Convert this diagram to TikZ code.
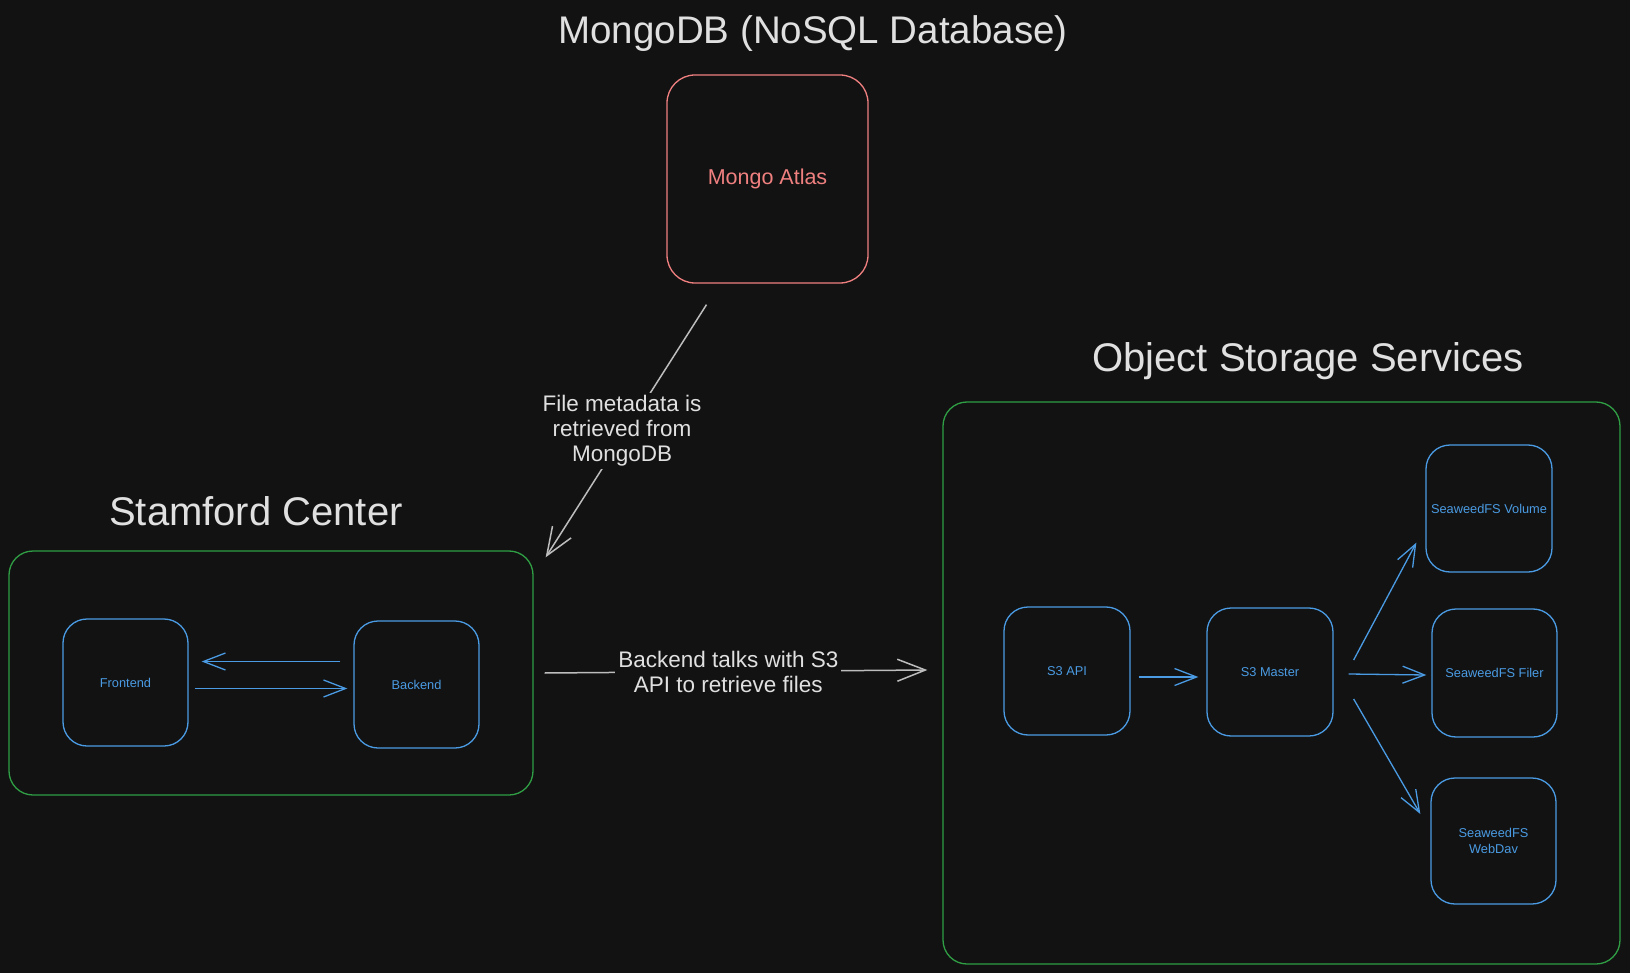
\documentclass[tikz,border=0pt]{standalone}
\usepackage{fontspec}
\setmainfont{Liberation Sans}
\usetikzlibrary{arrows.meta}

\definecolor{bgc}{HTML}{121212}
\definecolor{txtc}{HTML}{E0E0E0}
\definecolor{linec}{HTML}{BDBDBD}
\definecolor{bluec}{HTML}{4A9BE3}
\definecolor{greenc}{HTML}{2F9E44}
\definecolor{redc}{HTML}{F08080}

\begin{document}
\begin{tikzpicture}[x=1pt,y=-1pt,
    hd/.style={text=txtc,font=\fontsize{40}{46}\selectfont,anchor=base},
    grp/.style={draw=greenc,line width=1.3pt,rounded corners=24pt,inner sep=0pt},
    svc/.style={draw=bluec,line width=1.3pt,rounded corners=24pt,text=bluec,
      font=\fontsize{12.8}{15.5}\selectfont,align=center,inner sep=0pt,
      minimum width=125pt,minimum height=127pt},
    db/.style={draw=redc,line width=1.3pt,rounded corners=28pt,text=redc,
      font=\fontsize{21.5}{25}\selectfont,inner sep=0pt,
      minimum width=201pt,minimum height=208pt},
    lbl/.style={fill=bgc,text=txtc,font=\fontsize{22.5}{25}\selectfont,
      align=center,inner sep=3pt},
    arr/.style={draw=linec,line width=1.5pt,-{Straight Barb[length=28pt,width=22pt]}},
    barr/.style={draw=bluec,line width=1.3pt,-{Straight Barb[length=22pt,width=17pt]}}]

    \fill[bgc] (0,0) rectangle (1630,973);

    % the headings

    \node[hd,font=\fontsize{38.5}{44}\selectfont] (mongohd) at (813,44) {MongoDB (NoSQL Database)};
    \node[hd] (stamhd) at (256,525) {Stamford Center};
    \node[hd] (objhd) at (1308,372) {Object Storage Services};

    % the groups and boxes

    \node[db] (mongo) at (767.5,179) {Mongo Atlas};

    \node[grp,minimum width=524pt,minimum height=244pt] (stam) at (271,673) {};
    \node[svc] (front) at (125.5,682.5) {Frontend};
    \node[svc] (back) at (416.5,684.5) {Backend};

    \node[grp,minimum width=677pt,minimum height=562pt] (obj) at (1281.5,683) {};
    \node[svc,minimum width=126pt,minimum height=128pt] (s3api) at (1067,671) {S3 API};
    \node[svc,minimum width=126pt,minimum height=128pt] (s3master) at (1270,672) {S3 Master};
    \node[svc,minimum width=126pt] (volume) at (1489,508.5) {SeaweedFS Volume};
    \node[svc,minimum height=128pt] (filer) at (1494.5,673) {SeaweedFS Filer};
    \node[svc,minimum height=126pt] (webdav) at (1493.5,841) {SeaweedFS\\WebDav};

    % the arrows

    \draw[arr] ([xshift=-61pt,yshift=-21pt]mongo.south) to
    node[lbl,midway,xshift=-4pt]{File metadata is\\retrieved from\\MongoDB}
    ([xshift=12pt,yshift=-7pt]stam.north east);
    \draw[arr] ([xshift=11pt]stam.east) to
    node[lbl,pos=.48]{Backend talks with S3\\API to retrieve files}
    ([xshift=-15pt,yshift=13pt]obj.west);

    \draw[barr,shorten <=13pt,shorten >=13pt] ([yshift=23pt]back.west) to
    ([yshift=21pt]front.east);
    \draw[barr,shorten <=6pt,shorten >=6pt] ([yshift=-6pt]front.east) to
    ([yshift=-4pt]back.west);

    \draw[barr,shorten <=8pt,shorten >=8pt] ([yshift=-6pt]s3api.east) to
    ([yshift=-5pt]s3master.west);
    \draw[barr] ([xshift=20pt,yshift=12pt]s3master.east) to
    ([xshift=-9pt,yshift=30pt]volume.south west);
    \draw[barr] ([xshift=15pt,yshift=-2pt]s3master.east) to
    ([xshift=-5pt,yshift=-2pt]filer.west);
    \draw[barr] ([xshift=20pt,yshift=-27pt]s3master.east) to
    ([xshift=-10pt,yshift=27pt]webdav.west);
  \end{tikzpicture}
\end{document}
